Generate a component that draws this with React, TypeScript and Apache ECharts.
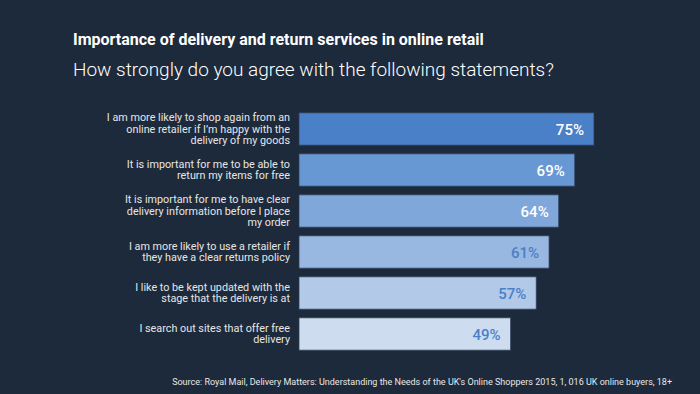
import React, { useEffect, useRef } from "react";
import * as echarts from "echarts";

const TITLE = "Importance of delivery and return services in online retail";
const SUBTITLE = "How strongly do you agree with the following statements?";
const SOURCE =
  "Source: Royal Mail, Delivery Matters: Understanding the Needs of the UK's Online Shoppers 2015, 1, 016 UK online buyers, 18+";

const categories = [
  "I am more likely to shop again from an\nonline retailer if I\u2019m happy with the\ndelivery of my goods",
  "It is important for me to be able to\nreturn my items for free",
  "It is important for me to have clear\ndelivery information before I place\nmy order",
  "I am more likely to use a retailer if\nthey have a clear returns policy",
  "I like to be kept updated with the\nstage that the delivery is at",
  "I search out sites that offer free\ndelivery",
];
const values = [75, 69, 64, 61, 57, 49];
const barColors = ["#4a80c8", "#6898d3", "#7fa7da", "#98b7e1", "#b2c9e8", "#cddcef"];
const labelColors = ["#ffffff", "#ffffff", "#ffffff", "#4a80c8", "#4a80c8", "#4a80c8"];

const X_MIN = -17;
const X_MAX = 80;

export default function App() {
  const ref = useRef<HTMLDivElement>(null);
  useEffect(() => {
    if (!ref.current) return;
    const chart = echarts.init(ref.current, null, { renderer: "svg" });
    chart.setOption({
      animation: false,
      backgroundColor: "#1d2a3b",
      title: [
        {
          text: TITLE,
          left: 73,
          top: 31,
          padding: 0,
          textStyle: { fontFamily: "Roboto", fontSize: 16, fontWeight: "bold", color: "#ffffff" },
        },
        {
          text: SUBTITLE,
          left: 73,
          top: 60,
          padding: 0,
          textStyle: { fontFamily: "Roboto", fontSize: 19, fontWeight: 300, color: "#ffffff" },
        },
        {
          text: SOURCE,
          right: 28,
          top: 377,
          padding: 0,
          textStyle: { fontFamily: "Roboto", fontSize: 9, fontWeight: "normal", color: "#e8e8e8" },
        },
      ],
      grid: { left: 299, right: 90, top: 108.5, height: 246, containLabel: false },
      xAxis: {
        type: "value",
        min: X_MIN,
        max: X_MAX,
        show: false,
      },
      yAxis: {
        type: "category",
        data: categories,
        inverse: true,
        axisLine: { show: false },
        axisTick: { show: false },
        splitLine: { show: false },
        axisLabel: {
          margin: 9,
          color: "#e6e6e6",
          fontFamily: "Roboto",
          fontSize: 10.8,
          lineHeight: 11.5,
          align: "right",
        },
      },
      series: [
        {
          type: "custom",
          data: values.map((v, i) => [v, i]),
          encode: { x: 0, y: 1 },
          renderItem: (params: any, api: any) => {
            const v = api.value(0);
            const idx = api.value(1);
            const start = api.coord([X_MIN, idx]);
            const end = api.coord([v, idx]);
            const band = api.size([0, 1])[1];
            const h = band * 0.79;
            const i = params.dataIndex;
            return {
              type: "group",
              children: [
                {
                  type: "rect",
                  shape: { x: start[0], y: start[1] - h / 2, width: end[0] - start[0], height: h },
                  style: { fill: barColors[i], stroke: "rgba(45,60,85,0.75)", lineWidth: 1 },
                },
                {
                  type: "text",
                  style: {
                    text: v + "%",
                    x: end[0] - 10,
                    y: end[1] + 1,
                    align: "right",
                    verticalAlign: "middle",
                    fill: labelColors[i],
                    fontFamily: "Roboto",
                    fontSize: 15,
                    fontWeight: 500,
                  },
                },
              ],
            };
          },
        },
      ],
    });
    return () => chart.dispose();
  }, []);
  return <div ref={ref} style={{ width: 700, height: 394, position: "absolute", left: 0, top: 0 }} />;
}
